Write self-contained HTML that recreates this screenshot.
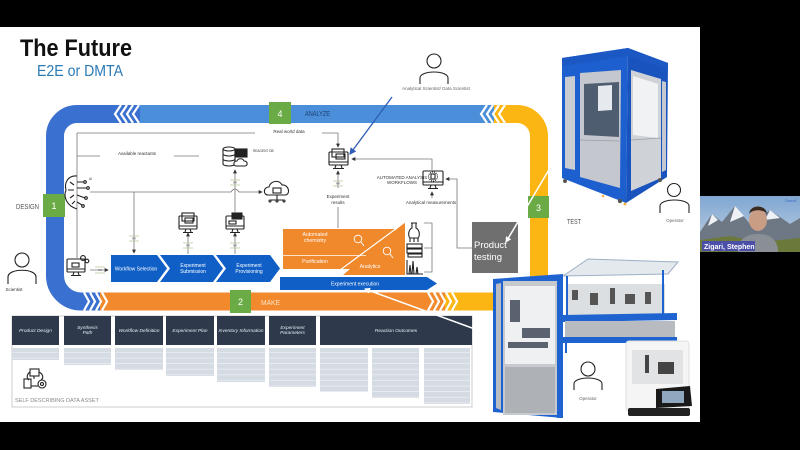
<!DOCTYPE html>
<html><head><meta charset="utf-8"><style>
html,body{margin:0;padding:0;background:#000;width:800px;height:450px;overflow:hidden}
svg{display:block}
text{font-family:"Liberation Sans",sans-serif}
</style></head><body>
<svg width="800" height="450" viewBox="0 0 800 450" xmlns="http://www.w3.org/2000/svg">
<defs>
<marker id="ag" viewBox="0 0 6 6" refX="5" refY="3" markerUnits="userSpaceOnUse" markerWidth="4" markerHeight="4" orient="auto"><path d="M0,0L6,3L0,6z" fill="#333"/></marker>
<marker id="ab" viewBox="0 0 6 6" refX="5" refY="3" markerUnits="userSpaceOnUse" markerWidth="7" markerHeight="7" orient="auto"><path d="M0,0L6,3L0,6z" fill="#2d5db5"/></marker>
<marker id="aw" viewBox="0 0 6 6" refX="5" refY="3" markerUnits="userSpaceOnUse" markerWidth="6" markerHeight="6" orient="auto"><path d="M0,0L6,3L0,6z" fill="#fff"/></marker>
<pattern id="rows" width="10" height="5.6" patternUnits="userSpaceOnUse"><rect width="10" height="5.6" fill="#d5dbe3"/><rect y="4.9" width="10" height="0.7" fill="#eef1f5"/></pattern>
<linearGradient id="sky" x1="0" y1="0" x2="0" y2="1"><stop offset="0" stop-color="#7fa6d2"/><stop offset="1" stop-color="#c7d5e4"/></linearGradient>
</defs>

<rect width="800" height="450" fill="#000"/>
<rect x="0" y="27" width="700" height="395" fill="#fff"/>

<text x="20" y="56" font-size="24" font-weight="bold" fill="#111" textLength="112" lengthAdjust="spacingAndGlyphs">The Future</text>
<text x="37" y="76" font-size="15.5" fill="#2a7ab5" textLength="86" lengthAdjust="spacingAndGlyphs">E2E or DMTA</text>

<!-- loop -->
<rect x="140" y="105" width="354" height="18" fill="#4b8fda"/>
<path d="M140 114 L77 114 A22 22 0 0 0 55 136 L55 275 A26 26 0 0 0 81 301.5 L100 301.5" stroke="#3a70cf" stroke-width="18" fill="none"/>
<rect x="100" y="292.5" width="345" height="18" fill="#f2892c"/>
<path d="M494 114 L517 114 A22 22 0 0 1 539 136 L539 280 A22 22 0 0 1 517 301.5 L445 301.5" stroke="#fbb614" stroke-width="18" fill="none"/>
<g stroke="#fff" stroke-width="2.2" fill="none">
<polyline points="121,105 115,114 121,123"/><polyline points="127,105 121,114 127,123"/><polyline points="133,105 127,114 133,123"/><polyline points="139,105 133,114 139,123"/>
<polyline points="487,105 481,114 487,123"/><polyline points="493,105 487,114 493,123"/><polyline points="499,105 493,114 499,123"/><polyline points="505,105 499,114 505,123"/>
<polyline points="84,292.5 89,301.5 84,310.5"/><polyline points="90,292.5 95,301.5 90,310.5"/><polyline points="96,292.5 101,301.5 96,310.5"/><polyline points="102,292.5 107,301.5 102,310.5"/>
<polyline points="428,292.5 433,301.5 428,310.5"/><polyline points="434,292.5 439,301.5 434,310.5"/><polyline points="440,292.5 445,301.5 440,310.5"/><polyline points="446,292.5 451,301.5 446,310.5"/><polyline points="452,292.5 457,301.5 452,310.5"/>
</g>
<text x="16" y="209" font-size="7.5" fill="#555" textLength="23" lengthAdjust="spacingAndGlyphs">DESIGN</text>
<text x="305" y="116" font-size="7" fill="#1f3f73" textLength="25" lengthAdjust="spacingAndGlyphs">ANALYZE</text>
<text x="261" y="305" font-size="7.5" fill="#fde3cc" textLength="19" lengthAdjust="spacingAndGlyphs">MAKE</text>
<text x="567" y="224" font-size="7.5" fill="#555" textLength="14" lengthAdjust="spacingAndGlyphs">TEST</text>
<g fill="#6aab46"><rect x="43" y="194" width="22" height="23"/><rect x="269" y="102" width="22" height="22"/><rect x="528" y="196" width="21" height="22"/><rect x="230" y="290" width="21" height="23"/></g>
<g font-size="9" fill="#fff" text-anchor="middle"><text x="54" y="209">1</text><text x="280" y="117">4</text><text x="538.5" y="211">3</text><text x="240.5" y="305">2</text></g>

<!-- connectors -->
<g stroke="#777" stroke-width="0.8" fill="none">
<path d="M77 133 L77 258"/><path d="M77 133 L255 133"/><path d="M322 133 L338 133 L338 147" marker-end="url(#ag)"/>
<path d="M77 156 L100 156"/><path d="M174 156 L199 156"/>
<path d="M90 192 L231 192 Q235 186 239 192 L262 192" marker-end="url(#ag)"/>
<path d="M134 192 L134 253" marker-end="url(#ag)"/>
<path d="M235 212 L235 170" marker-end="url(#ag)"/>
<path d="M188 254 L188 233" marker-end="url(#ag)"/>
<path d="M235 254 L235 233" marker-end="url(#ag)"/>
<path d="M338 188 L338 171" marker-end="url(#ag)"/>
<path d="M338 207 L338 228"/>
<path d="M432 170 L432 159 L352 159" marker-end="url(#ag)"/>
<path d="M432 198 L432 192" marker-end="url(#ag)"/>
<path d="M472 248 L457 248 L457 179 L446 179" marker-end="url(#ag)"/>
<path d="M424 223 L432 223 L432 272 L424 272 M424 248 L432 248"/>
<path d="M90 270 L108 270" marker-end="url(#ag)"/>
</g>
<!-- API marks -->
<g stroke="#b9c79a" stroke-width="0.7" fill="none">
<path d="M129 236 L139 236 M129 241 L139 241"/><path d="M95 267 L105 267 M95 273 L105 273"/>
<path d="M183 243 L193 243 M183 248 L193 248"/><path d="M230 243 L240 243 M230 248 L240 248"/>
<path d="M230 180 L240 180 M230 185 L240 185"/><path d="M333 181 L343 181 M333 186 L343 186"/>
</g>
<g font-size="2.6" fill="#555" text-anchor="middle"><text x="134" y="239.5">API</text><text x="100" y="271">API</text><text x="188" y="246.5">API</text><text x="235" y="246.5">API</text><text x="235" y="183.5">API</text><text x="338" y="184.5">API</text></g>

<g font-size="4.5" fill="#333" text-anchor="middle">
<text x="289" y="133">Real world data</text>
<text x="137" y="155">Available reactants</text>
<text x="338" y="198">Experiment</text><text x="338" y="204">results</text>
<text x="402" y="179">AUTOMATED ANALYSIS</text><text x="402" y="184">WORKFLOWS</text>
<text x="431" y="204">Analytical measurements</text>
<text x="436" y="90" fill="#666">Analytical Scientist/ Data Scientist</text>
<text x="14" y="291">Scientist</text>
<text x="675" y="222" fill="#666">Operator</text>
<text x="588" y="400" fill="#666">Operator</text>
</g>
<text x="253" y="152" font-size="3.2" fill="#333">REAGENT DB</text>
<text x="89" y="180" font-size="3.2" fill="#333">AI</text>

<!-- icons -->
<g stroke="#222" stroke-width="1.1" fill="none">
<path d="M77 176 C68 175 64 183 66 190 C63 197 67 206 77 209"/>
<path d="M70 182 L74 185 M68 190 L74 190 M70 198 L74 195 M72 204 L75 201"/>
<path d="M77 182 L84 182 M77 188 L87 188 M77 195 L85 198 M77 202 L82 205"/>
<circle cx="85" cy="182" r="1.3"/><circle cx="88" cy="188" r="1.3"/><circle cx="86" cy="198" r="1.3"/><circle cx="83" cy="206" r="1.3"/>
<g transform="translate(67,259)"><rect x="0" y="0" width="18" height="13" rx="1"/><path d="M0 10 L18 10 M7 13 L6 16 M11 13 L12 16 M4 16.5 L14 16.5"/><rect x="5" y="4" width="7" height="4"/></g>
<circle cx="83" cy="258" r="2.4"/><circle cx="87" cy="261" r="1.8"/>
<g transform="translate(179,213)"><rect x="0" y="3" width="18" height="13" rx="1"/><path d="M0 13 L18 13 M7 16 L6 19 M11 16 L12 19 M4 19.5 L14 19.5"/><rect x="3" y="0" width="12" height="8"/><rect x="6" y="5" width="8" height="5"/></g>
<g transform="translate(226,213)"><rect x="0" y="3" width="18" height="13" rx="1"/><path d="M0 13 L18 13 M7 16 L6 19 M11 16 L12 19 M4 19.5 L14 19.5"/><rect x="6" y="0" width="10" height="6" fill="#222"/><rect x="3" y="8" width="7" height="3"/></g>
<ellipse cx="229" cy="149" rx="6" ry="2"/><path d="M223 149 L223 164 A6 2 0 0 0 235 164 L235 149 M223 154 A6 2 0 0 0 235 154 M223 159 A6 2 0 0 0 235 159"/>
<rect x="235" y="149" width="12" height="8" fill="#222"/>
<path d="M236 166 C233 166 233 161 237 161 C238 158 243 158 244 161 C248 161 248 166 245 166 Z" fill="#fff"/>
<path d="M268 195 C263 195 263 187 269 187 C270 181 279 179 282 185 C289 184 291 195 285 195 Z"/>
<rect x="273" y="188" width="8" height="5"/><path d="M277 195 L277 200 M270 200 L284 200"/><circle cx="270" cy="201" r="1"/><circle cx="277" cy="201" r="1"/><circle cx="284" cy="201" r="1"/>
<g transform="translate(329,149)"><rect x="0" y="3" width="19" height="13" rx="1"/><path d="M0 13 L19 13 M7 16 L6 19 M12 16 L13 19 M4 19.5 L15 19.5"/><rect x="3" y="0" width="12" height="8"/><rect x="7" y="5" width="9" height="5"/></g>
<g transform="translate(423,171)"><rect x="0" y="0" width="20" height="14" rx="1"/><path d="M0 11 L20 11 M8 14 L7 17 M12 14 L13 17 M5 17.5 L15 17.5"/><circle cx="10" cy="5.5" r="4.5" stroke-dasharray="1 1"/><rect x="8" y="3" width="4" height="5"/></g>
<path d="M411 223 L417 223 M412 223 L412 228 C408 230 408 236 410 238 L418 238 C420 236 420 230 416 228 L416 223"/><path d="M410 238 L410 242 M414 238 L414 242 M418 238 L418 242"/>
<rect x="407" y="244" width="15" height="4"/><rect x="407" y="249" width="15" height="4"/><rect x="408" y="254" width="14" height="3"/>
<path d="M407 260 L407 274 L423 274"/><path d="M409 274 L410 265 L411 274 M412 274 L413 261 L414 274 M416 274 L417 267 L418 274"/>
<circle cx="434" cy="61" r="7"/><path d="M420 84 L420 78 C420 70 448 70 448 78 L448 84"/>
<circle cx="22" cy="260" r="7"/><path d="M8 284 L8 277 C8 268 36 268 36 277 L36 284"/>
<circle cx="674" cy="190" r="6.5"/><path d="M660 213 L660 206 C660 198 689 198 689 206 L689 213"/>
<circle cx="588" cy="369" r="7"/><path d="M574 390 L574 384 C574 376 602 376 602 384 L602 390"/>
<rect x="30" y="369" width="9" height="7"/><path d="M34 376 L34 379 M29 380 C26 378 27 374 30 372 M39 372 C43 374 44 378 41 380"/>
<rect x="24" y="379" width="7" height="9"/><circle cx="42" cy="384" r="4"/><circle cx="42" cy="384" r="1.5"/><path d="M31 386 L38 386"/>
</g>
<path d="M392 97 L350 154" stroke="#2d5db5" stroke-width="1.3" fill="none" marker-end="url(#ab)"/>

<!-- process chevrons -->
<g fill="#0f5fc6">
<polygon points="111,255 157,255 167,268.5 157,282 111,282"/>
<polygon points="160,255 213,255 223,268.5 213,282 160,282 170,268.5"/>
<polygon points="216,255 270,255 280,268.5 270,282 216,282 226,268.5"/>
<polygon points="280,277 427,277 437,283.5 427,290 280,290"/>
</g>
<g font-size="5" fill="#fff" text-anchor="middle">
<text x="136" y="270.5">Workflow Selection</text>
<text x="193" y="267">Experiment</text><text x="193" y="273">Submission</text>
<text x="249" y="267">Experiment</text><text x="249" y="273">Provisioning</text>
<text x="355" y="285.5">Experiment execution</text>
</g>

<!-- orange make area -->
<rect x="283" y="229" width="112" height="40" fill="#f0882c"/>
<polygon points="343,275 405,275 405,222" fill="#f0882c"/>
<path d="M283 255.5 L366 255.5" stroke="#fff" stroke-width="0.8"/>
<path d="M336 273 L405 222" stroke="#fff" stroke-width="1.2"/>
<g font-size="5.2" fill="#fff" text-anchor="middle">
<text x="315" y="236">Automated</text><text x="315" y="242">chemistry</text>
<text x="315" y="263">Purification</text><text x="370" y="268">Analytics</text>
</g>
<g stroke="#fff" stroke-width="0.9" fill="none"><circle cx="358" cy="239" r="3.8"/><path d="M361 242 L364 246"/><circle cx="387" cy="251" r="3.8"/><path d="M390 254 L393 258"/></g>

<!-- product testing -->
<rect x="472" y="222" width="46" height="51" fill="#6f6f6f"/>
<text x="474" y="248" font-size="9.5" fill="#fff">Product</text>
<text x="474" y="260" font-size="9.5" fill="#fff">testing</text>

<!-- data table -->
<rect x="12" y="316" width="460" height="91" fill="none" stroke="#ccc" stroke-width="1"/>
<g fill="#2e394c">
<rect x="12" y="316" width="47" height="29"/><rect x="64" y="316" width="47" height="29"/><rect x="115" y="316" width="48" height="29"/><rect x="166" y="316" width="48" height="29"/><rect x="217" y="316" width="48" height="29"/><rect x="269" y="316" width="47" height="29"/><rect x="320" y="316" width="152" height="29"/>
</g>
<g fill="url(#rows)">
<rect x="12" y="348" width="47" height="12"/><rect x="64" y="348" width="47" height="17"/><rect x="115" y="348" width="48" height="22"/><rect x="166" y="348" width="48" height="28"/><rect x="217" y="348" width="48" height="34"/><rect x="269" y="348" width="47" height="39"/>
<rect x="320" y="348" width="48" height="44"/><rect x="372" y="348" width="47" height="50"/><rect x="424" y="348" width="46" height="56"/>
</g>
<g font-size="4.8" fill="#e8ecf2" text-anchor="middle" font-style="italic">
<text x="35.5" y="332">Product Design</text>
<text x="87.5" y="329">Synthesis</text><text x="87.5" y="334">Path</text>
<text x="139" y="332">Workflow Definition</text>
<text x="190" y="332">Experiment Plan</text>
<text x="241" y="332">Inventory Information</text>
<text x="292.5" y="329">Experiment</text><text x="292.5" y="334">Parameters</text>
<text x="396" y="332" font-style="normal">Reaction Outcomes</text>
</g>
<text x="15" y="402" font-size="5.5" fill="#888">SELF DESCRIBING DATA ASSET</text>

<!-- white arrows -->
<path d="M550 168 L506 242" stroke="#fff" stroke-width="1.5" fill="none" marker-end="url(#aw)"/>
<path d="M494 336 L365 289" stroke="#fff" stroke-width="1.5" fill="none" marker-end="url(#aw)"/>

<!-- top cabinet -->
<polygon points="562,58 628,48 626,203 562,178" fill="#1d5fcf"/>
<polygon points="628,48 668,63 667,177 626,203" fill="#1953bd"/>
<polygon points="565,77 575,76 575,170 565,168" fill="#c9cdd2"/>
<polygon points="580,73 621,70 620,188 580,177" fill="#c4c8ce"/>
<polygon points="584,84 619,82 619,137 584,135" fill="#4f5d70"/>
<polygon points="598,86 612,85 612,110 598,111" fill="#e6e9ed"/>
<path d="M580 140 L620 141" stroke="#9aa0a8" stroke-width="0.8"/>
<polygon points="631,70 661,79 661,178 631,191" fill="#cfd2d7"/>
<polygon points="633,76 658,84 658,138 633,135" fill="#f0f2f4"/>
<path d="M631 140 L661 138" stroke="#9aa0a8" stroke-width="0.8"/>
<polygon points="662,81 666,82 666,170 662,172" fill="#c5c9cf"/>
<polygon points="562,58 628,48 668,63 668,70 628,56 562,66" fill="#1b58c4"/>
<g fill="#555"><circle cx="565" cy="181" r="2"/><circle cx="620" cy="201" r="2.2"/><circle cx="660" cy="180" r="2"/></g>
<g fill="#f2b640"><circle cx="625" cy="204" r="1.5"/><circle cx="603" cy="196" r="1.3"/></g>

<!-- bottom device 2 (hood table) -->
<polygon points="563,276 588,259 678,262 668,274" fill="#e4e9ee" stroke="#9db0c5" stroke-width="1"/>
<rect x="567" y="284" width="98" height="31" fill="#dcdfe2"/>
<g fill="#555"><rect x="572" y="290" width="6" height="10"/><rect x="590" y="293" width="8" height="12"/><rect x="610" y="288" width="5" height="16"/><rect x="625" y="294" width="10" height="10"/><rect x="645" y="292" width="6" height="12"/></g>
<path d="M567 276 L567 318 M663 270 L663 318" stroke="#1e63d0" stroke-width="2"/>
<polygon points="563,315 677,313 677,320 563,322" fill="#1e63d0"/>
<rect x="565" y="321" width="110" height="16" fill="#b8bcc1"/>
<rect x="563" y="337" width="114" height="6" fill="#1e63d0"/>
<path d="M566 343 L566 353 M674 343 L674 351" stroke="#1e63d0" stroke-width="2"/>

<!-- bottom device 1 (tall) -->
<polygon points="493,279 563,274 563,418 493,412" fill="#1e63d0"/>
<polygon points="496,284 501,283 501,410 496,408" fill="#b9bdc2"/>
<rect x="503" y="281" width="54" height="134" fill="#c6c9cd"/>
<rect x="505" y="286" width="50" height="78" fill="#eef0f2"/>
<g fill="#5a6270"><rect x="510" y="300" width="10" height="22"/><rect x="522" y="328" width="28" height="10"/><rect x="508" y="342" width="40" height="6"/></g>
<rect x="505" y="367" width="50" height="46" fill="#aeb2b7"/>
<rect x="557" y="275" width="6" height="143" fill="#1e63d0"/>

<!-- bottom device 3 (benchtop) -->
<rect x="626" y="341" width="63" height="70" rx="3" fill="#f5f5f5" stroke="#ddd" stroke-width="1"/>
<rect x="632" y="350" width="51" height="34" fill="#e1e3e5"/>
<g fill="#444"><rect x="645" y="355" width="4" height="18"/><rect x="658" y="362" width="16" height="12"/></g>
<polygon points="656,389 690,386 692,406 656,408" fill="#1a1a1a"/>
<rect x="662" y="391" width="22" height="12" fill="#8fa8c0"/>
<rect x="628" y="408" width="62" height="8" rx="2" fill="#222"/>

<!-- webcam -->
<rect x="700" y="196" width="100" height="56" fill="url(#sky)"/>
<polygon points="700,232 712,214 722,222 735,206 750,224 770,210 790,224 800,218 800,252 700,252" fill="#6e7884"/>
<polygon points="712,214 718,220 708,226" fill="#eef2f6"/>
<polygon points="735,206 744,216 730,222" fill="#eef2f6"/>
<polygon points="770,210 780,218 765,220" fill="#eef2f6"/>
<polygon points="700,240 730,236 760,242 800,238 800,252 700,252" fill="#6b7a3a"/>
<path d="M738 252 C738 238 748 234 758 234 C768 234 778 238 778 252 Z" fill="#8a8f96"/>
<ellipse cx="758" cy="220" rx="9" ry="11" fill="#c99c84"/>
<path d="M749 214 C750 204 766 204 767 214 C764 209 752 209 749 214 Z" fill="#3a2a20"/>
<text x="785" y="202" font-size="4" fill="#3a6fc0">Sanofi</text>
<rect x="702" y="241" width="53" height="10" fill="#4b4fa8"/>
<text x="704" y="249" font-size="7" font-weight="bold" fill="#fff">Zigari, Stephen</text>
</svg>
</body></html>
